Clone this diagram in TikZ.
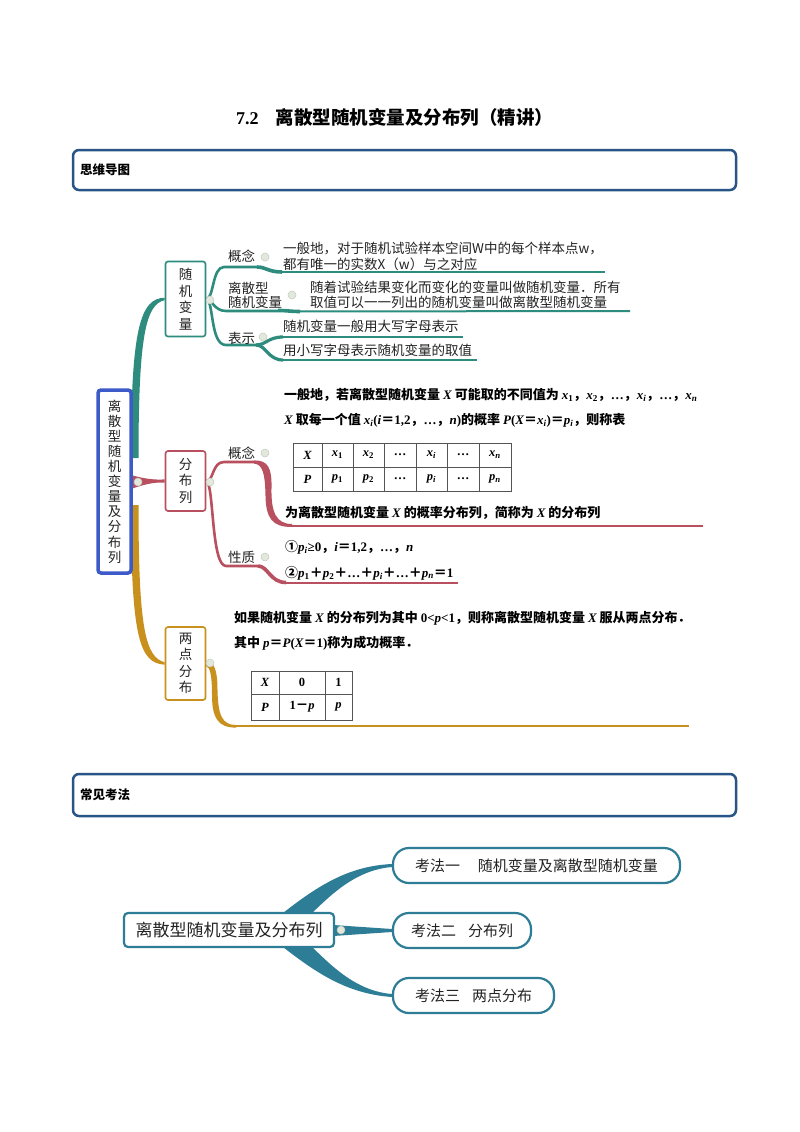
\documentclass[tikz,border=0pt]{standalone}
\usepackage{fontspec}
\setmainfont{Liberation Serif}
\newfontfamily\cjk{Noto Sans CJK SC}
\usetikzlibrary{calc,backgrounds}
\definecolor{tealc}{RGB}{45,140,125}
\definecolor{redc}{RGB}{185,80,95}
\definecolor{goldc}{RGB}{200,145,30}
\definecolor{rootblue}{RGB}{60,90,200}
\definecolor{hdrblue}{RGB}{40,85,135}
\definecolor{btmblue}{RGB}{46,125,150}
\definecolor{txt}{RGB}{35,35,35}
\definecolor{dotc}{RGB}{226,232,220}
\definecolor{dotl}{RGB}{195,202,190}
\definecolor{tabl}{RGB}{85,85,85}
\newcommand{\mv}[1]{{\rmfamily\bfseries\itshape #1}}
\newcommand{\ms}[2]{{\rmfamily\bfseries\itshape #1\textsubscript{#2}}}
\newcommand{\rb}[1]{{\rmfamily\bfseries #1}}
\tikzset{
  hdr/.style={draw=hdrblue, line width=2.5, rounded corners=6, minimum width=663},
  hdrtext/.style={anchor=west, inner sep=0, font=\cjk\bfseries\fontsize{12.5}{14}\selectfont},
  cj/.style={anchor=west, inner sep=0, text=txt, font=\cjk\fontsize{13.5}{16}\selectfont},
  cjb/.style={anchor=west, inner sep=0, text=black, font=\cjk\bfseries\fontsize{13}{16}\selectfont},
  vbox/.style={draw, line width=1.6, rounded corners=2.5, fill=white, align=center, inner sep=0, minimum width=40, text=txt, font=\cjk\fontsize{13.5}{16.5}\selectfont},
  rootbox/.style={draw=rootblue, line width=3.5, rounded corners=3, fill=white, align=center, inner sep=0, minimum width=33, minimum height=183, text=txt, font=\cjk\fontsize{13.5}{15.1}\selectfont},
  dot/.style={circle, inner sep=0, minimum size=8, fill=dotc, draw=dotl, line width=0.5},
  tcell/.style={inner sep=0, font=\rmfamily\bfseries\itshape\fontsize{12.5}{14}\selectfont},
  tabline/.style={draw=tabl, line width=1},
  pill/.style={draw=btmblue, line width=2.2, rounded corners=16, fill=white, minimum height=35, inner sep=0, text=txt, font=\cjk\fontsize{15}{17}\selectfont},
  b2root/.style={draw=btmblue, line width=2.2, rounded corners=4, fill=white, minimum width=210, minimum height=34, inner sep=0, text=txt, font=\cjk\fontsize{17}{19}\selectfont},
}
\begin{document}
\begin{tikzpicture}[x=1pt,y=-1pt]
\useasboundingbox (0,0) rectangle (800,1132);
\begin{scope}[on background layer]
\fill[white] (0,0) rectangle (800,1132);
\end{scope}

% title
\node[anchor=west, inner sep=0] (title) at (236,117) {{\rmfamily\bfseries\fontsize{18}{20}\selectfont 7.2}\hspace{17pt}{\cjk\bfseries\fontsize{18.5}{20}\selectfont 离散型随机变量及分布列（精讲）}};

% headers
\node[hdr, minimum height=40] (h1) at (404.5,170) {};
\node[hdrtext] (h1t) at (80,170) {思维导图};
\node[hdr, minimum height=42] (h2) at (404.5,795) {};
\node[hdrtext] (h2t) at (80,795) {常见考法};

% ---------- mind map 1 ----------
\node[rootbox] (root) at (114.5,481.5) {离\\散\\型\\随\\机\\变\\量\\及\\分\\布\\列};
\node[vbox, draw=tealc, minimum height=75] (rv) at (185.5,299) {随\\机\\变\\量};
\node[vbox, draw=redc, minimum height=60] (fb) at (185.5,481) {分\\布\\列};
\node[vbox, draw=goldc, minimum height=73] (ld) at (185.5,663.5) {两\\点\\分\\布};

\begin{scope}[on background layer]
\fill[tealc] (131,458) .. controls (131,330) and (140,298) .. ($(rv.west)+(0,-1.2)$) -- ($(rv.west)+(0,1.2)$) .. controls (146,304) and (138.5,335) .. (138.5,458) -- cycle;
\fill[goldc] (131,505) .. controls (131,640) and (140,663) .. ($(ld.west)+(0,1.2)$) -- ($(ld.west)+(0,-1.2)$) .. controls (146,657) and (138.5,632) .. (138.5,505) -- cycle;
\fill[redc] (131,475) .. controls (145,479) and (155,480) .. ($(fb.west)+(0,-1.6)$) -- ($(fb.west)+(0,1.6)$) .. controls (155,482) and (145,484) .. (131,489) -- cycle;
\end{scope}

% teal sub-branches
\coordinate (t1) at (605,272);
\coordinate (t2) at (630,311);
\coordinate (t3) at (463,337);
\coordinate (t4) at (477,360);
\begin{scope}[on background layer]
\draw[tealc, line width=2.6] (rv.east) .. controls (214,299) and (212,267) .. (224,267) -- (257,267);
\draw[tealc, line width=3.6] (257,267) .. controls (266,267) and (268,272) .. (282,272);
\draw[tealc, line width=2] (280,272) -- (t1);
\draw[tealc, line width=2.6] (rv.east) .. controls (212,299) and (214,311) .. (226,311) -- (278,311);
\draw[tealc, line width=3.6] (278,310.5) .. controls (288,310.5) and (290,311.5) .. (300,311.5);
\draw[tealc, line width=2] (298,311.5) -- (t2);
\draw[tealc, line width=2.6] (rv.east) .. controls (214,301) and (210,345) .. (226,345) -- (256,345);
\draw[tealc, line width=3.2] (256,345) .. controls (266,345) and (268,337) .. (283,337);
\draw[tealc, line width=3.2] (256,345) .. controls (266,345) and (268,360) .. (283,360);
\draw[tealc, line width=2] (281,337) -- (t3);
\draw[tealc, line width=2] (281,360) -- (t4);
\end{scope}

\node[cj] (l1) at (228,256) {概念};
\node[cj] (l2) at (228,288) {离散型};
\node[cj] (l3) at (228,302.5) {随机变量};
\node[cj] (l4) at (228,338) {表示};
\node[cj] (x1) at (283,249) {一般地，对于随机试验样本空间W中的每个样本点w，};
\node[cj] (x2) at (283,264) {都有唯一的实数X（w）与之对应};
\node[cj] (x3) at (310,287) {随着试验结果变化而变化的变量叫做随机变量．所有};
\node[cj] (x4) at (310,302) {取值可以一一列出的随机变量叫做离散型随机变量};
\node[cj] (x5) at (283,326.5) {随机变量一般用大写字母表示};
\node[cj] (x6) at (283,350) {用小写字母表示随机变量的取值};

% red sub-branches
\coordinate (r1) at (703,525.5);
\coordinate (r2) at (458,582.5);
\begin{scope}[on background layer]
\draw[redc, line width=2.6] (fb.east) .. controls (214,481) and (212,462) .. (224,462) -- (256,462);
\fill[redc] (254,460.5) .. controls (268,460) and (272,468) .. (271.5,488) .. controls (271,512) and (276,524) .. (292,524) -- (292,527) .. controls (272,527) and (266,518) .. (265.5,496) .. controls (265,474) and (263,464.5) .. (254,463.5) -- cycle;
\draw[redc, line width=2] (290,525.5) -- (r1);
\draw[redc, line width=2.6] (fb.east) .. controls (214,483) and (211,566) .. (226,566) -- (258,566);
\draw[redc, line width=3.6] (258,566) .. controls (268,566) and (270,582.5) .. (286,582.5);
\draw[redc, line width=2] (284,582.5) -- (r2);
\end{scope}

\node[cj] (l5) at (228,453) {概念};
\node[cj] (l6) at (228,557) {性质};
\node[cjb] (y1) at (284,395) {一般地，若离散型随机变量 \mv{X} 可能取的不同值为 \ms{x}{\upshape 1}，\ms{x}{\upshape 2}，\rb{…}，\ms{x}{i}，\rb{…}，\ms{x}{n}};
\node[cjb] (y2) at (284,420) {\mv{X} 取每一个值 \ms{x}{i}\rb{(}\mv{i}＝\rb{1,2}，\rb{…}，\mv{n}\rb{)}的概率 \mv{P}\rb{(}\mv{X}＝\ms{x}{i}\rb{)}＝\ms{p}{i}，则称表};
\node[cjb] (y3) at (285,513) {为离散型随机变量 \mv{X} 的概率分布列，简称为 \mv{X} 的分布列};
\node[cjb] (y4) at (285,547) {①\ms{p}{i}\rb{≥0}，\mv{i}＝\rb{1,2}，\rb{…}，\mv{n}};
\node[cjb] (y5) at (285,573) {②\ms{p}{\upshape 1}＋\ms{p}{\upshape 2}＋\rb{…}＋\ms{p}{i}＋\rb{…}＋\ms{p}{n}＝\rb{1}};

% table 1
\draw[tabline] (293,443) rectangle (511,491);
\draw[tabline] (293,467) -- (511,467);
\foreach \xx in {322,353,384,416,447,479} \draw[tabline] (\xx,443) -- (\xx,491);
\node[tcell] (a1) at (307.5,455) {X};
\node[tcell] (a2) at (337.5,455) {x\textsubscript{\upshape 1}};
\node[tcell] (a3) at (368.5,455) {x\textsubscript{\upshape 2}};
\node[tcell] (a4) at (400,455) {\upshape …};
\node[tcell] (a5) at (431.5,455) {x\textsubscript{i}};
\node[tcell] (a6) at (463,455) {\upshape …};
\node[tcell] (a7) at (495,455) {x\textsubscript{n}};
\node[tcell] (b1) at (307.5,479) {P};
\node[tcell] (b2) at (337.5,479) {p\textsubscript{\upshape 1}};
\node[tcell] (b3) at (368.5,479) {p\textsubscript{\upshape 2}};
\node[tcell] (b4) at (400,479) {\upshape …};
\node[tcell] (b5) at (431.5,479) {p\textsubscript{i}};
\node[tcell] (b6) at (463,479) {\upshape …};
\node[tcell] (b7) at (495,479) {p\textsubscript{n}};

% gold sub-branch
\coordinate (g1) at (689,726.3);
\begin{scope}[on background layer]
\fill[goldc] (206,661) .. controls (214,661) and (217.5,670) .. (217.5,690) .. controls (218,715) and (222,725) .. (236,725) -- (236,727.6) .. controls (218,727.6) and (212,718) .. (212,695) .. controls (212,675) and (210,667) .. (206,666) -- cycle;
\draw[goldc, line width=2] (232,726.3) -- (g1);
\end{scope}
\node[cjb] (z1) at (234,618) {如果随机变量 \mv{X} 的分布列为其中 {\rmfamily 0<\textit{p}<1}，则称离散型随机变量 \mv{X} 服从两点分布．};
\node[cjb] (z2) at (234,643) {其中 \mv{p}＝\mv{P}\rb{(}\mv{X}＝\rb{1)}称为成功概率．};

% table 2
\draw[tabline] (251,671) rectangle (352,720);
\draw[tabline] (251,694) -- (352,694);
\foreach \xx in {279,325} \draw[tabline] (\xx,671) -- (\xx,720);
\node[tcell] (c1) at (265,682.5) {X};
\node[tcell] (c2) at (302,682.5) {\upshape 0};
\node[tcell] (c3) at (338.5,682.5) {\upshape 1};
\node[tcell] (d1) at (265,707) {P};
\node[tcell] (d2) at (302,707) {{\upshape 1}{\cjk\upshape －}p};
\node[tcell] (d3) at (338.5,707) {p};

% dots
\node[dot] (dot0) at (138,482) {};
\node[dot] (dot1) at (210,300) {};
\node[dot] (dot2) at (210,482) {};
\node[dot] (dot3) at (210,663) {};
\node[dot] (dot4) at (265,257) {};
\node[dot] (dot5) at (292,295) {};
\node[dot] (dot6) at (263,337) {};
\node[dot] (dot7) at (265,453) {};
\node[dot] (dot8) at (265,557) {};

% ---------- mind map 2 ----------
\node[b2root] (r2) at (229,930) {离散型随机变量及分布列};
\node[pill, minimum width=287] (k1) at (536.5,865.5) {考法一\hspace{1.2em}随机变量及离散型随机变量};
\node[pill, minimum width=138] (k2) at (462,930.5) {考法二\hspace{0.8em}分布列};
\node[pill, minimum width=161] (k3) at (473.5,995.5) {考法三\hspace{0.8em}两点分布};
\begin{scope}[on background layer]
\fill[btmblue] (283,913) .. controls (320,884) and (350,866) .. ($(k1.west)+(0,-1.5)$) -- ($(k1.west)+(0,1.5)$) .. controls (355,870) and (330,896) .. (312,913) -- cycle;
\fill[btmblue] (333,925) -- ($(k2.west)+(0,-1.5)$) -- ($(k2.west)+(0,1.5)$) -- (333,936) -- cycle;
\fill[btmblue] (283,947) .. controls (320,976) and (350,994) .. ($(k3.west)+(0,1.5)$) -- ($(k3.west)+(0,-1.5)$) .. controls (355,991) and (330,964) .. (312,947) -- cycle;
\end{scope}
\node[dot] (dot9) at (341,930) {};
\end{tikzpicture}
\end{document}
